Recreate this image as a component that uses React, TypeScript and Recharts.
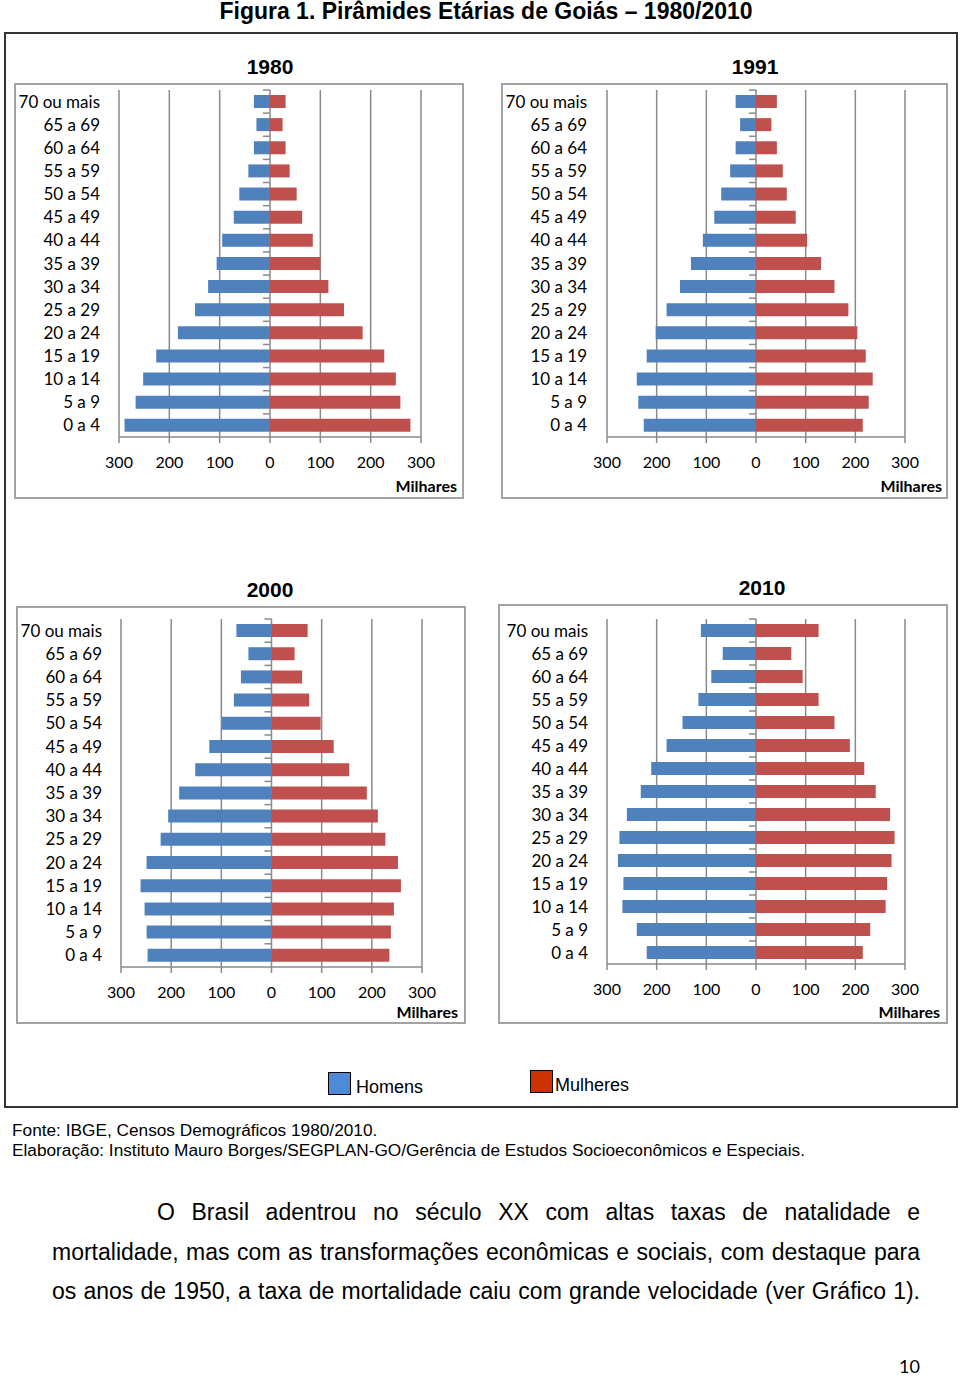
import React from 'react';
import { BarChart, Bar, XAxis, YAxis, CartesianGrid, ReferenceLine } from 'recharts';

// age groups, oldest at the top
const ageGroups = [
  '70 ou mais', '65 a 69', '60 a 64', '55 a 59', '50 a 54', '45 a 49', '40 a 44',
  '35 a 39', '30 a 34', '25 a 29', '20 a 24', '15 a 19', '10 a 14', '5 a 9', '0 a 4',
];
const xTicks = [-300, -200, -100, 0, 100, 200, 300];

// thousands of people
const men1980 = [32, 27, 32, 43, 61, 72, 95, 106, 123, 149, 183, 226, 252, 267, 289];
const women1980 = [31, 25, 31, 39, 53, 64, 85, 100, 116, 147, 184, 227, 250, 259, 279];
const men1991 = [41, 32, 41, 52, 70, 84, 107, 131, 153, 180, 202, 220, 240, 237, 226];
const women1991 = [42, 31, 42, 54, 62, 80, 103, 131, 158, 186, 204, 221, 235, 227, 215];
const men2000 = [70, 46, 61, 75, 99, 124, 152, 184, 206, 221, 249, 261, 253, 249, 247];
const women2000 = [72, 46, 61, 75, 98, 124, 155, 190, 212, 227, 252, 258, 244, 238, 235];
const men2010 = [111, 67, 90, 116, 148, 180, 211, 232, 260, 275, 278, 267, 269, 240, 220];
const women2010 = [126, 71, 94, 126, 158, 189, 218, 241, 270, 279, 273, 264, 261, 230, 215];

const BLUE = '#4F81BD';
const RED = '#C0504D';
const GRID = '#8a8a8a';
const ARIAL = '"Liberation Sans", Arial, sans-serif';
const CALIBRI = 'Lato, "Open Sans", sans-serif';

type Box = { left: number; top: number; width: number; height: number };

function Pyramid({
  year, men, women, box, titleX, titleTop, top, right, bottom, yWidth, labelGap, milharesRight, milharesTop,
}: {
  year: string; men: number[]; women: number[]; box: Box; titleX: number; titleTop: number;
  top: number; right: number; bottom: number; yWidth: number; labelGap: number;
  milharesRight: number; milharesTop: number;
}) {
  const data = ageGroups.map((age, i) => ({ age, homens: -men[i], mulheres: women[i] }));
  return (
    <>
      <div style={{ position: 'absolute', left: titleX - 100, width: 200, top: titleTop, textAlign: 'center', fontFamily: ARIAL, fontWeight: 'bold', fontSize: 21, lineHeight: '21px' }}>
        {year}
      </div>
      <div style={{ position: 'absolute', ...box }}>
        <BarChart
          width={box.width}
          height={box.height}
          data={data}
          layout="vertical"
          stackOffset="sign"
          barSize={13}
          margin={{ top, right, bottom: bottom - 30, left: 0 }}
        >
          <CartesianGrid horizontal={false} stroke={GRID} strokeWidth={1.5} />
          <XAxis
            type="number"
            domain={[-300, 300]}
            ticks={xTicks}
            interval={0}
            height={30}
            tickFormatter={(v: number) => String(Math.abs(v))}
            tick={{ fontFamily: CALIBRI, fontSize: 16, fill: '#000' }}
            tickSize={6}
            tickMargin={14}
            stroke={GRID}
            axisLine={{ stroke: GRID, strokeWidth: 1.5 }}
            tickLine={{ stroke: GRID, strokeWidth: 1.5 }}
          />
          <YAxis
            type="category"
            dataKey="age"
            width={yWidth}
            interval={0}
            axisLine={false}
            tickLine={false}
            tickSize={0}
            tickMargin={labelGap}
            tick={{ fontFamily: CALIBRI, fontSize: 17, fill: '#000' }}
          />
          {/* small category tick marks on the zero line */}
          {ageGroups.map((age) => (
            <ReferenceLine
              key={age}
              segment={[{ x: -14, y: age }, { x: 0, y: age }]}
              position="start"
              stroke={GRID}
              strokeWidth={1.5}
            />
          ))}
          <Bar dataKey="homens" stackId="p" fill={BLUE} isAnimationActive={false} />
          <Bar dataKey="mulheres" stackId="p" fill={RED} isAnimationActive={false} />
        </BarChart>
        <div style={{ position: 'absolute', inset: 0, border: '2px solid #a3a3a3', boxSizing: 'border-box', pointerEvents: 'none' }} />
        <div style={{ position: 'absolute', right: milharesRight, top: milharesTop, fontFamily: CALIBRI, fontWeight: 'bold', fontSize: 16, lineHeight: '16px' }}>
          Milhares
        </div>
      </div>
    </>
  );
}

export default function App() {
  return (
    <div style={{ position: 'absolute', left: 0, top: 0, width: 960, height: 1376, background: '#fff', color: '#000' }}>
      <div style={{ position: 'absolute', left: 136, width: 700, top: 0, textAlign: 'center', fontFamily: ARIAL, fontWeight: 'bold', fontSize: 23, lineHeight: '23px' }}>
        Figura 1. Pirâmides Etárias de Goiás – 1980/2010
      </div>
      <div style={{ position: 'absolute', left: 4, top: 32, width: 954, height: 1076, border: '2px solid #333', boxSizing: 'border-box' }} />

      <Pyramid year="1980" men={men1980} women={women1980}
        box={{ left: 14, top: 83, width: 450, height: 416 }} titleX={270} titleTop={56}
        top={7} right={43} bottom={62} yWidth={105} labelGap={19} milharesRight={7} milharesTop={395} />
      <Pyramid year="1991" men={men1991} women={women1991}
        box={{ left: 501, top: 83, width: 447, height: 416 }} titleX={755} titleTop={56}
        top={7} right={43} bottom={62} yWidth={106} labelGap={20} milharesRight={6} milharesTop={395} />
      <Pyramid year="2000" men={men2000} women={women2000}
        box={{ left: 16, top: 606, width: 450, height: 418 }} titleX={270} titleTop={579}
        top={13} right={44} bottom={57} yWidth={105} labelGap={19} milharesRight={8} milharesTop={398} />
      <Pyramid year="2010" men={men2010} women={women2010}
        box={{ left: 498, top: 604, width: 450, height: 420 }} titleX={762} titleTop={577}
        top={15} right={43} bottom={60} yWidth={109} labelGap={19} milharesRight={8} milharesTop={400} />

      {/* legend */}
      <div style={{ position: 'absolute', left: 328, top: 1072, width: 23, height: 23, background: '#4F8AD8', border: '1.5px solid #000', boxSizing: 'border-box' }} />
      <div style={{ position: 'absolute', left: 356, top: 1078, fontFamily: ARIAL, fontSize: 18, lineHeight: '18px' }}>Homens</div>
      <div style={{ position: 'absolute', left: 530, top: 1070, width: 23, height: 23, background: '#CC3300', border: '1.5px solid #000', boxSizing: 'border-box' }} />
      <div style={{ position: 'absolute', left: 555, top: 1076, fontFamily: ARIAL, fontSize: 18, lineHeight: '18px' }}>Mulheres</div>

      <div style={{ position: 'absolute', left: 12, top: 1120, fontFamily: ARIAL, fontSize: 17.25, lineHeight: '20px', whiteSpace: 'nowrap' }}>
        <div>Fonte: IBGE, Censos Demográficos 1980/2010.</div>
        <div>Elaboração: Instituto Mauro Borges/SEGPLAN-GO/Gerência de Estudos Socioeconômicos e Especiais.</div>
      </div>

      <div style={{ position: 'absolute', left: 52, width: 868, top: 1193, fontFamily: ARIAL, fontSize: 23, lineHeight: '39.5px' }}>
        <div style={{ textAlign: 'justify', textAlignLast: 'justify', paddingLeft: 105 }}>O Brasil adentrou no século XX com altas taxas de natalidade e</div>
        <div style={{ textAlign: 'justify', textAlignLast: 'justify' }}>mortalidade, mas com as transformações econômicas e sociais, com destaque para</div>
        <div style={{ textAlign: 'justify', textAlignLast: 'justify' }}>os anos de 1950, a taxa de mortalidade caiu com grande velocidade (ver Gráfico 1).</div>
      </div>

      <div style={{ position: 'absolute', left: 899, top: 1357, fontFamily: CALIBRI, fontSize: 18, lineHeight: '18px' }}>10</div>
    </div>
  );
}
